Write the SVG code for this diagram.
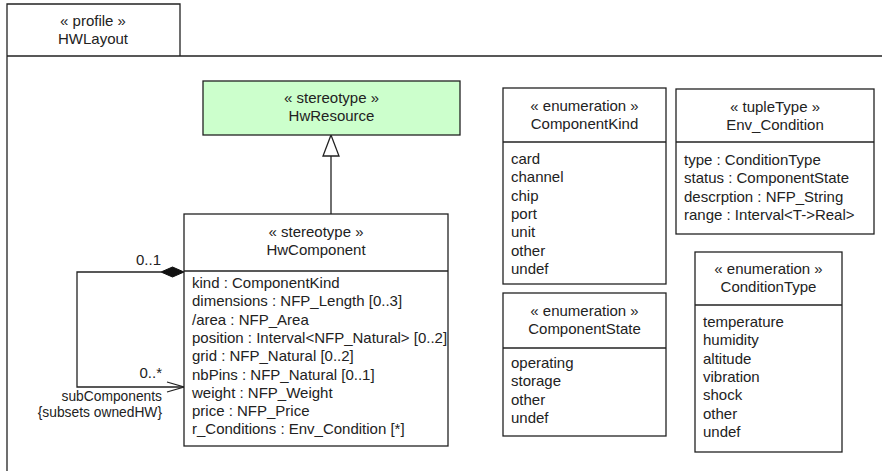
<svg xmlns="http://www.w3.org/2000/svg" width="882" height="471" viewBox="0 0 882 471">
<style>
.box{fill:#ffffff;stroke:#222;stroke-width:1.3}
.st{fill:#ccffcc;stroke:#222;stroke-width:1.3}
.ln{fill:none;stroke:#222;stroke-width:1.3}
text{font-family:"Liberation Sans",Arial,sans-serif;font-size:15px;fill:#222}
.c{text-anchor:middle}
.r{text-anchor:end}
.sm{font-size:13.8px}
</style>
<rect width="882" height="471" fill="#ffffff"/>
<g id="frame">
<path class="ln" d="M7,480 V4 H180 V56 M7,56 H890" stroke-width="1.5"/>
<text class="c" x="93" y="26">« profile »</text>
<text class="c" x="93" y="44">HWLayout</text>
</g>
<g id="connectors">
<path class="ln" d="M331,214 V156"/>
<polygon points="331,135 323,156 339,156" fill="#ffffff" stroke="#222" stroke-width="1.3"/>
<path class="ln" d="M161,272 H77 V387 H184"/>
<polygon points="184,272 172.5,267 161,272 172.5,277" fill="#111" stroke="#111" stroke-width="1"/>
<path class="ln" d="M167,382 L184,387 L167,392"/>
<text class="r" x="161" y="265">0..1</text>
<text class="r" x="162" y="378">0..*</text>
<text class="r sm" x="162" y="401">subComponents</text>
<text class="r sm" x="162" y="417">{subsets ownedHW}</text>
</g>
<g id="HwResource">
<rect class="st" x="203" y="81" width="257" height="54"/>
<text class="c" x="331.5" y="103">« stereotype »</text>
<text class="c" x="331.5" y="121">HwResource</text>
</g>
<g id="HwComponent">
<rect class="box" x="184" y="214" width="264" height="232"/>
<line class="ln" x1="184" y1="271" x2="448" y2="271"/>
<text class="c" x="316" y="237">« stereotype »</text>
<text class="c" x="316" y="255">HwComponent</text>
<text x="192" y="288">kind : ComponentKind</text>
<text x="192" y="306.3">dimensions : NFP_Length [0..3]</text>
<text x="192" y="324.6">/area : NFP_Area</text>
<text x="192" y="342.9">position : Interval&lt;NFP_Natural&gt; [0..2]</text>
<text x="192" y="361.2">grid : NFP_Natural [0..2]</text>
<text x="192" y="379.5">nbPins : NFP_Natural [0..1]</text>
<text x="192" y="397.8">weight : NFP_Weight</text>
<text x="192" y="416.1">price : NFP_Price</text>
<text x="192" y="434.4">r_Conditions : Env_Condition [*]</text>
</g>
<g id="ComponentKind">
<rect class="box" x="503" y="88" width="163" height="196"/>
<line class="ln" x1="503" y1="142" x2="666" y2="142"/>
<text class="c" x="584.5" y="111">« enumeration »</text>
<text class="c" x="584.5" y="129">ComponentKind</text>
<text x="511" y="164">card</text>
<text x="511" y="182.3">channel</text>
<text x="511" y="200.6">chip</text>
<text x="511" y="218.9">port</text>
<text x="511" y="237.2">unit</text>
<text x="511" y="255.5">other</text>
<text x="511" y="273.8">undef</text>
</g>
<g id="ComponentState">
<rect class="box" x="503" y="293" width="163" height="143"/>
<line class="ln" x1="503" y1="348" x2="666" y2="348"/>
<text class="c" x="584.5" y="316">« enumeration »</text>
<text class="c" x="584.5" y="334">ComponentState</text>
<text x="511" y="368">operating</text>
<text x="511" y="386.3">storage</text>
<text x="511" y="404.6">other</text>
<text x="511" y="422.9">undef</text>
</g>
<g id="Env_Condition">
<rect class="box" x="676" y="89" width="198" height="145"/>
<line class="ln" x1="676" y1="142" x2="874" y2="142"/>
<text class="c" x="775" y="112">« tupleType »</text>
<text class="c" x="775" y="130">Env_Condition</text>
<text x="684" y="165">type : ConditionType</text>
<text x="684" y="183.3">status : ComponentState</text>
<text x="684" y="201.6">descrption : NFP_String</text>
<text x="684" y="219.9">range : Interval&lt;T-&gt;Real&gt;</text>
</g>
<g id="ConditionType">
<rect class="box" x="695" y="252" width="147" height="200"/>
<line class="ln" x1="695" y1="305" x2="842" y2="305"/>
<text class="c" x="768.5" y="274">« enumeration »</text>
<text class="c" x="768.5" y="292">ConditionType</text>
<text x="703" y="327">temperature</text>
<text x="703" y="345.3">humidity</text>
<text x="703" y="363.6">altitude</text>
<text x="703" y="381.9">vibration</text>
<text x="703" y="400.2">shock</text>
<text x="703" y="418.5">other</text>
<text x="703" y="436.8">undef</text>
</g>
</svg>
